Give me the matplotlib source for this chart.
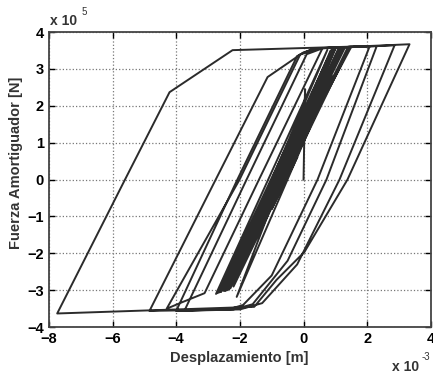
import matplotlib
matplotlib.use("Agg")
import matplotlib.pyplot as plt

plt.rcParams['font.family'] = ['Liberation Sans', 'DejaVu Sans']

# desplazamiento in 1e-3 m, fuerza in 1e5 N (history of vertices)
disp = [
    0.0, 0.05, 0.0,
    -2.3, 1.0, -2.5, 1.2, -2.7, 0.9, -2.35, 1.4,
    2.3, 0.72, -0.5, -1.6, -2.2, -3.74,
    -1.79, 0.1, 0.6, 2.86,
    1.13, -0.2, -1.3, -2.0, -4.84,
    -2.76, -1.13, 0.0, 0.4, 3.33,
    1.38, 0.03, -0.85, -1.55, -7.74,
    -5.61, -4.21, -2.23, 2.08,
    0.44, -1.0, -1.9, -2.4, -4.0,
    -2.08, -0.2, 0.3, 0.6,
    -1.4, -3.11, -3.8, -4.3,
    -2.01, -0.1, 0.5, 1.5,
    -2.6, 1.0, -2.45, 1.3, -2.75, 0.75, -2.5, 1.15, -2.2, 1.45,
    -2.65, 0.95, -2.35, 1.25, -2.58, 1.1, -2.4, 0.85, -2.1,
    0.9, -1.6, 0.5, -1.0, -0.2,
]
fuerza = [
    0.0, 2.45, 1.05,
    -2.95, 3.55, -3.0, 3.57, -3.08, 3.54, -2.97, 3.6,
    3.62, 0.0, -2.2, -3.38, -3.52, -3.55,
    0.0, 3.4, 3.56, 3.64,
    0.0, -2.3, -3.35, -3.52, -3.56,
    0.0, 2.78, 3.45, 3.56, 3.67,
    0.0, -1.96, -2.72, -3.45, -3.63,
    0.0, 2.37, 3.51, 3.62,
    0.0, -2.6, -3.4, -3.53, -3.56,
    0.0, 3.35, 3.55, 3.57,
    0.0, -3.08, -3.32, -3.5,
    0.0, 3.4, 3.56, 3.6,
    -3.05, 3.55, -3.02, 3.58, -3.1, 3.52, -3.02, 3.56, -2.9, 3.6,
    -3.06, 3.55, -2.98, 3.58, -3.03, 3.56, -3.0, 3.5, -3.18,
    2.8, -1.5, 2.0, -0.8, 0.6,
]

xticks = [-8, -6, -4, -2, 0, 2, 4]
yticks = [-4, -3, -2, -1, 0, 1, 2, 3, 4]

fig = plt.figure(figsize=(4.33, 3.73), dpi=100)
ax = fig.add_axes([0.113, 0.123, 0.882, 0.791])

ax.plot(disp, fuerza, "-", color="#2b2b2b", lw=1.4, solid_joinstyle="round")

ax.set_xlim(-8, 4)
ax.set_ylim(-4, 4)
ax.set_xticks(xticks)
ax.set_yticks(yticks)
ax.grid(True, linestyle=":", color="#777777", lw=0.9)
ax.tick_params(direction="in", top=True, right=True, labelsize=10.5, length=4, width=1)
for lab in ax.get_xticklabels() + ax.get_yticklabels():
    lab.set_fontweight("bold")
for s in ax.spines.values():
    s.set_color("#444444")
    s.set_linewidth(1.3)

fig.text(16 / 433, 1 - 163 / 373, "Fuerza Amortiguador [N]", rotation=90,
         ha="center", va="center", fontsize=10.5, fontweight="bold", color="#333333")
fig.text(239 / 433, 1 - 358 / 373, "Desplazamiento [m]", ha="center", va="center",
         fontsize=10.5, fontweight="bold", color="#333333")

fig.text(50 / 433, 1 - 25 / 373, "x 10", fontsize=10, fontweight="bold", color="#333333")
fig.text(82 / 433, 1 - 15 / 373, "5", fontsize=7, color="#333333")
fig.text(392 / 433, 1 - 371 / 373, "x 10", fontsize=10, fontweight="bold", color="#333333")
fig.text(422 / 433, 1 - 360 / 373, "-3", fontsize=7, color="#333333")

fig.savefig("out.png", dpi=100)
